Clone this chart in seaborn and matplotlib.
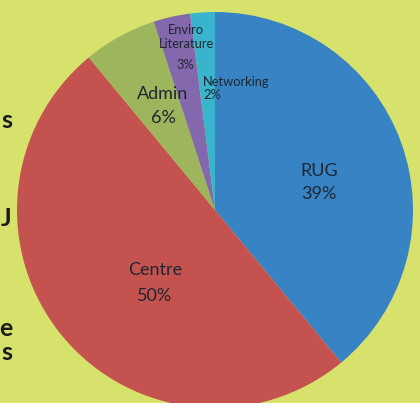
import matplotlib
matplotlib.use("Agg")
import matplotlib.pyplot as plt
import seaborn as sns

sns.set_theme(style="white")
plt.rcParams['font.family'] = ['Lato', 'DejaVu Sans']

categories = ["RUG", "Centre", "Admin", "Enviro\nLiterature", "Networking"]
shares = [39, 50, 6, 3, 2]
colors = ["#3783c4", "#c4534f", "#9db55c", "#8468ae", "#39b4cc"]
# label positions in pixels (x, y from top) for the name / percentage
label_xy = [(319, 171), (155, 270), (163, 94), (186, 37), (236, 82)]
pct_xy = [(319, 194), (155, 296), (163, 118), (185, 65), (212, 95)]
label_size = [13, 13, 13, 9.3, 9.3]
edge_chars = [("s", 120), ("J", 218), ("e", 328), ("s", 352)]

W, H = 420, 403
CX, CY, R = 215, 210, 198
bg = "#d7e26d"

fig = plt.figure(figsize=(W / 100, H / 100), dpi=100, facecolor=bg)
ax = fig.add_axes([0, 0, 1, 1])
ax.set_facecolor(bg)
ax.pie(shares, colors=colors, startangle=90, counterclock=False,
       radius=1, center=(0, 0), wedgeprops=dict(linewidth=0))
ax.set_xlim(-CX / R, (W - CX) / R)
ax.set_ylim((CY - H) / R, CY / R)
ax.set_aspect('auto')
ax.axis('off')

def to_data(px, py):
    return (px - CX) / R, (CY - py) / R

for name, v, (lx, ly), (qx, qy), fs in zip(categories, shares, label_xy, pct_xy, label_size):
    x, y = to_data(lx, ly)
    ax.text(x, y, name, ha='center', va='center', fontsize=fs,
            color="#1f2630", linespacing=1.3)
    x, y = to_data(qx, qy)
    ax.text(x, y, f"{v}%", ha='center', va='center', fontsize=fs, color="#1f2630")

for ch, py in edge_chars:
    x, y = to_data(12, py)
    ax.text(x, y, ch, ha='right', va='center', fontsize=18, fontweight='bold',
            color="#1b1b1b")

fig.savefig("out.png", dpi=100, facecolor=bg)
